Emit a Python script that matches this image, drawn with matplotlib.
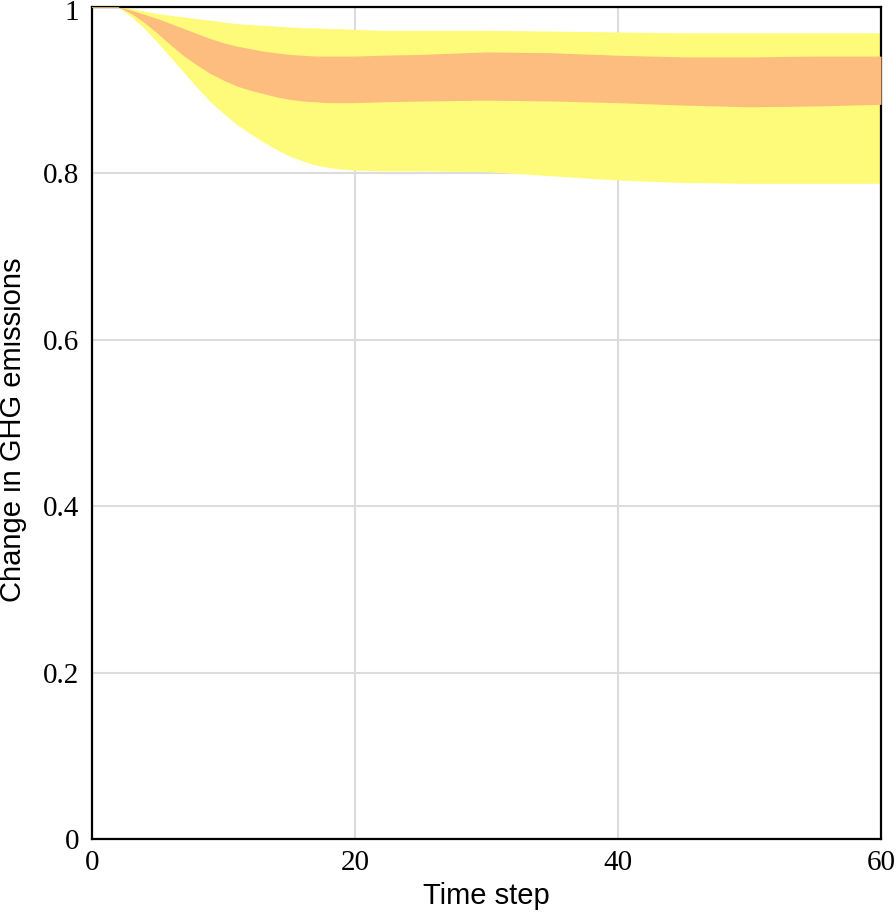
import numpy as np
import matplotlib.pyplot as plt
from matplotlib.transforms import ScaledTranslation

# time steps and the band edges
t = [0, 2, 3, 4, 5, 6, 7, 8, 9, 10, 11, 12, 13, 14, 15, 16, 17, 18, 19, 20,
     22, 25, 30, 35, 40, 45, 50, 55, 60]
outer_hi = [1, 1, 0.998, 0.995, 0.992, 0.990, 0.988, 0.986, 0.984, 0.982, 0.980,
            0.979, 0.978, 0.977, 0.976, 0.975, 0.975, 0.974, 0.974, 0.973,
            0.972, 0.972, 0.972, 0.971, 0.970, 0.969, 0.969, 0.969, 0.969]
inner_hi = [1, 1, 0.996, 0.991, 0.986, 0.980, 0.974, 0.968, 0.962, 0.957, 0.953,
            0.950, 0.947, 0.945, 0.943, 0.942, 0.941, 0.941, 0.941, 0.941,
            0.942, 0.943, 0.946, 0.945, 0.942, 0.940, 0.940, 0.941, 0.941]
inner_lo = [1, 1, 0.992, 0.981, 0.968, 0.954, 0.941, 0.930, 0.920, 0.912, 0.905,
            0.900, 0.896, 0.892, 0.889, 0.887, 0.886, 0.885, 0.885, 0.885,
            0.886, 0.887, 0.888, 0.887, 0.885, 0.882, 0.880, 0.881, 0.883]
outer_lo = [1, 1, 0.988, 0.974, 0.957, 0.939, 0.921, 0.903, 0.886, 0.872, 0.859,
            0.848, 0.838, 0.829, 0.821, 0.815, 0.810, 0.807, 0.805, 0.804,
            0.803, 0.803, 0.802, 0.797, 0.792, 0.789, 0.788, 0.788, 0.788]

xticks = [0, 20, 40, 60]
yticks = [0, 0.2, 0.4, 0.6, 0.8, 1]
ytick_labels = ['0', '0.2', '0.4', '0.6', '0.8', '1']

fig = plt.figure(figsize=(8.96, 9.18), dpi=100)
ax = fig.add_axes([0.1027, 0.0861, 0.8806, 0.9063])

ax.fill_between(t, outer_lo, outer_hi, color='#fffb7a', lw=0, zorder=2)
ax.fill_between(t, inner_lo, inner_hi, color='#fdbd7e', lw=0, zorder=3)
ax.plot(t[:2], outer_hi[:2], color='#c8a050', lw=1.5, zorder=4)

ax.set_xlim(0, 60)
ax.set_ylim(0, 1)
ax.set_xticks(xticks)
ax.set_xticklabels([str(v) for v in xticks])
ax.set_yticks(yticks)
ax.set_yticklabels(ytick_labels)
ax.grid(True, color='#dcdcdc', lw=1.5, zorder=1)
ax.set_axisbelow(True)
ax.tick_params(length=0, labelsize=21, pad=9)
ax.tick_params(axis='x', pad=8)
for lab in ax.get_xticklabels() + ax.get_yticklabels():
    lab.set_family('Liberation Serif')
for sp in ax.spines.values():
    sp.set_linewidth(1.6)
    sp.set_color('black')

# nudge the top "1" down a little so it is not clipped by the figure edge
top = ax.get_yticklabels()[-1]
top.set_transform(top.get_transform() + ScaledTranslation(0, -0.03, fig.dpi_scale_trans))

ax.set_xlabel('Time step', family='Liberation Sans', fontsize=21, labelpad=4)
fig.text(0.015, 0.532, 'Change in GHG emissions', family='Liberation Sans',
         fontsize=21, rotation=90, ha='center', va='center')

fig.savefig('out.png', dpi=100)
